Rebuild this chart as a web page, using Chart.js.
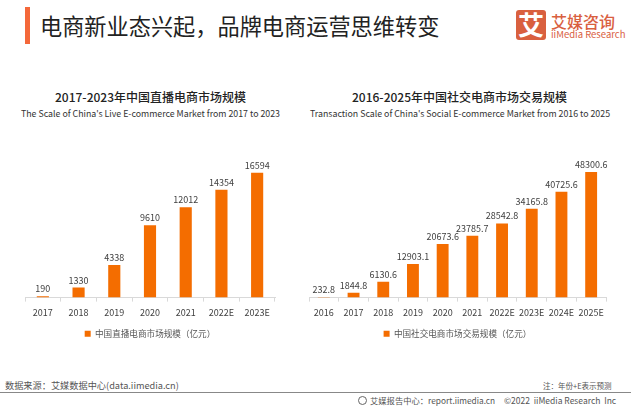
<!DOCTYPE html>
<html>
<head>
<meta charset="utf-8">
<script src="https://cdn.jsdelivr.net/npm/chart.js@4"></script>
<style>
    html, body { margin: 0; padding: 0; background: #fff; }
    body { width: 631px; height: 410px; position: relative; overflow: hidden; font-family: "Noto Sans CJK SC", sans-serif; }
    .txt { position: absolute; white-space: nowrap; line-height: 1; }
    canvas { position: absolute; }
    #chartLeft { left: 0; top: 150px; }
    #chartRight { left: 300px; top: 150px; }
</style>
</head>
<body>
<div style="position:absolute;left:25px;top:7px;width:5px;height:37px;background:#f4683a"></div>
<div class="txt" style="left:40px;top:14px;font-size:22.2px;color:#222">电商新业态兴起，品牌电商运营思维转变</div>

<div style="position:absolute;left:516px;top:10px;width:30px;height:30px;background:#d9603f;border-radius:3px"></div>
<div class="txt" style="left:518px;top:11px;font-size:26px;font-weight:700;color:#fff">艾</div>
<div class="txt" style="left:551px;top:13px;font-size:16px;font-weight:500;color:#d9603f">艾媒咨询</div>
<div class="txt" style="left:551px;top:30px;font-size:9.5px;color:#d9603f">iiMedia Research</div>

<div class="txt" style="left:55px;top:91px;font-size:12px;font-weight:500;color:#222">2017-2023年中国直播电商市场规模</div>
<div class="txt" style="left:21px;top:110px;font-size:8.8px;color:#333">The Scale of China's Live E-commerce Market from 2017 to 2023</div>
<div class="txt" style="left:352px;top:91px;font-size:12px;font-weight:500;color:#222">2016-2025年中国社交电商市场交易规模</div>
<div class="txt" style="left:310px;top:110px;font-size:8.8px;color:#333">Transaction Scale of China's Social E-commerce Market from 2016 to 2025</div>

<canvas id="chartLeft" style="width:300px;height:198px"></canvas>
<canvas id="chartRight" style="width:314px;height:198px"></canvas>

<div class="txt" style="left:5px;top:381px;font-size:9.2px;color:#555">数据来源：艾媒数据中心(data.iimedia.cn)</div>
<div class="txt" style="left:543px;top:382px;font-size:7.5px;color:#555">注：年份+E表示预测</div>
<div style="position:absolute;left:0;top:392px;width:631px;height:1px;background:#888"></div>
<div style="position:absolute;left:358px;top:396px;width:7px;height:7px;border:1px solid #666;border-radius:50%"></div>
<div class="txt" style="left:370px;top:396px;font-size:8.3px;color:#555">艾媒报告中心：report.iimedia.cn</div>
<div class="txt" style="left:504px;top:396px;font-size:8.5px;color:#555">©2022&nbsp; iiMedia Research&nbsp; Inc</div>

<script>
const liveYears = ['2017', '2018', '2019', '2020', '2021', '2022E', '2023E']
const liveValues = [190, 1330, 4338, 9610, 12012, 14354, 16594]
const liveLabel = '中国直播电商市场规模（亿元）'

const socialYears = ['2016', '2017', '2018', '2019', '2020', '2021', '2022E', '2023E', '2024E', '2025E']
const socialValues = [232.8, 1844.8, 6130.6, 12903.1, 20673.6, 23785.7, 28542.8, 34165.8, 40725.6, 48300.6]
const socialLabel = '中国社交电商市场交易规模（亿元）'

const fontName = '"Noto Sans CJK SC", sans-serif'
const barColor = '#f46d00'

// value labels above the bars
const valueLabels = {
    id: 'valueLabels',
    afterDatasetsDraw(chart) {
        const ctx = chart.ctx
        const meta = chart.getDatasetMeta(0)
        ctx.save()
        ctx.font = '9px ' + fontName
        ctx.fillStyle = '#404040'
        ctx.textAlign = 'center'
        ctx.textBaseline = 'bottom'
        meta.data.forEach((bar, i) => {
            ctx.fillText(chart.data.datasets[0].data[i], bar.x, bar.y - 3)
        })
        ctx.restore()
    }
}

function makeChart(id, labels, values, label, yMax, barPct, padLeft, padRight) {
    return new Chart(document.getElementById(id), {
        type: 'bar',
        data: {
            labels: labels,
            datasets: [{ label: label, data: values, backgroundColor: barColor, barPercentage: barPct, categoryPercentage: 1 }]
        },
        options: {
            responsive: false,
            animation: false,
            layout: { padding: { left: padLeft, right: padRight, top: 0, bottom: 0 } },
            plugins: {
                tooltip: { enabled: false },
                legend: {
                    position: 'bottom',
                    labels: { boxWidth: 6, boxHeight: 6, padding: 5, color: '#555', font: { size: 8.6, family: fontName } }
                }
            },
            scales: {
                y: { display: false, min: 0, max: yMax },
                x: {
                    grid: { drawOnChartArea: false, color: '#d9d9d9', tickLength: 4 },
                    border: { color: '#d9d9d9' },
                    ticks: { color: '#404040', padding: 6, maxRotation: 0, autoSkip: false, font: { size: 9, family: fontName } }
                }
            }
        },
        plugins: [valueLabels]
    })
}

const setSize = (id, w, h) => {
    const c = document.getElementById(id)
    c.width = w
    c.height = h
}
setSize('chartLeft', 300, 198)
setSize('chartRight', 314, 198)

makeChart('chartLeft', liveYears, liveValues, liveLabel, 19624, 0.34, 25, 25)
makeChart('chartRight', socialYears, socialValues, socialLabel, 56800, 0.4, 9, 8)
</script>
</body>
</html>
